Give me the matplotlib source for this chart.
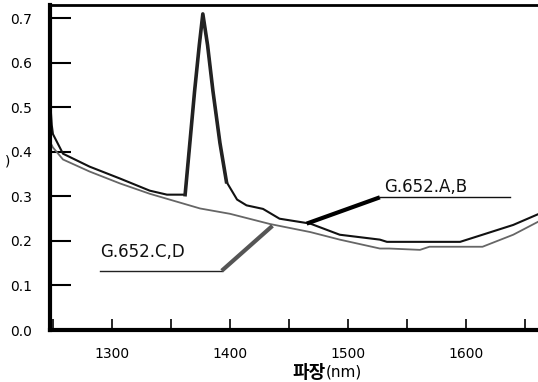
import matplotlib
matplotlib.use("Agg")
import matplotlib.pyplot as plt
from matplotlib.ticker import MultipleLocator, FixedLocator

plt.rcParams['font.family'] = ['DejaVu Sans', 'Noto Sans CJK KR']

# G.652.A,B (black) with water peak
wl_ab = [1248, 1249, 1250, 1258.5, 1281, 1307, 1332, 1346.6, 1360, 1362, 1366, 1370, 1374,
         1377, 1381, 1385.6, 1391.5, 1397, 1406, 1414, 1428, 1442, 1468, 1493, 1527,
         1533, 1595, 1614, 1640, 1661]
att_ab = [0.50, 0.46, 0.44, 0.396, 0.367, 0.340, 0.313, 0.304, 0.304, 0.304, 0.42, 0.536, 0.64,
          0.71, 0.64, 0.536, 0.42, 0.333, 0.293, 0.280, 0.272, 0.250, 0.239, 0.214, 0.203,
          0.198, 0.198, 0.214, 0.236, 0.260]

# G.652.C,D (gray) low water peak
wl_cd = [1248, 1250, 1258.5, 1281, 1307, 1332, 1374.6, 1400, 1434, 1468, 1493, 1527,
         1535, 1561, 1569, 1614, 1640, 1661]
att_cd = [0.42, 0.41, 0.383, 0.356, 0.329, 0.306, 0.273, 0.261, 0.238, 0.220, 0.203, 0.183,
          0.183, 0.180, 0.187, 0.187, 0.214, 0.243]

xticks_major = [1300, 1400, 1500, 1600]
yticks = [0.0, 0.1, 0.2, 0.3, 0.4, 0.5, 0.6, 0.7]

# annotation leader lines (data coords)
ab_label = "G.652.A,B"
cd_label = "G.652.C,D"
ab_hline_x = [1527, 1637]
ab_hline_y = [0.298, 0.298]
ab_arrow_x = [1527, 1465]
ab_arrow_y = [0.298, 0.239]
cd_hline_x = [1290, 1393]
cd_hline_y = [0.133, 0.133]
cd_arrow_x = [1393, 1436]
cd_arrow_y = [0.133, 0.234]

fig = plt.figure(figsize=(5.38, 3.82), dpi=100)
ax = fig.add_axes([50/538, 52/382, 1 - 50/538, 325/382])

ax.plot(wl_cd, att_cd, color='#666666', lw=1.3)
ax.plot(wl_ab, att_ab, color='#111111', lw=1.5)
# water peak drawn heavier, as in the original
ax.plot(wl_ab[9:18], att_ab[9:18], color='#222222', lw=2.6)

ax.plot(ab_hline_x, ab_hline_y, color='#111111', lw=1.0)
ax.plot(ab_arrow_x, ab_arrow_y, color='#000000', lw=3.0, solid_capstyle='butt')
ax.plot(cd_hline_x, cd_hline_y, color='#222222', lw=1.0)
ax.plot(cd_arrow_x, cd_arrow_y, color='#555555', lw=3.0, solid_capstyle='butt')

ax.text(1531, 0.322, ab_label, fontsize=12, color='#111111', ha='left', va='center')
ax.text(1290, 0.176, cd_label, fontsize=12, color='#111111', ha='left', va='center')

ax.set_xlim(1247.5, 1661)
ax.set_ylim(0, 0.73)

ax.xaxis.set_major_locator(FixedLocator(xticks_major))
ax.xaxis.set_minor_locator(MultipleLocator(50))
ax.set_yticks(yticks)
ax.set_yticklabels([f"{v:.1f}" for v in yticks])

ax.tick_params(axis='y', direction='in', length=15, width=1.5, pad=13, labelsize=10)
ax.tick_params(axis='x', which='both', direction='in', length=8, width=1.2, pad=12, labelsize=10)

for s in ['left', 'bottom']:
    ax.spines[s].set_linewidth(3.0)
ax.spines['top'].set_linewidth(2.0)
ax.spines['right'].set_visible(False)

fig.text(326/538, 1 - 372/382, "파장", fontsize=13, fontweight='bold',
         family=['Noto Sans CJK KR'], ha='right', va='center')
fig.text(326/538, 1 - 372/382, "(nm)", fontsize=11, ha='left', va='center')
fig.text(8/538, 1 - 162/382, ")", fontsize=10, ha='center', va='center')

fig.savefig("out.png", dpi=100)
